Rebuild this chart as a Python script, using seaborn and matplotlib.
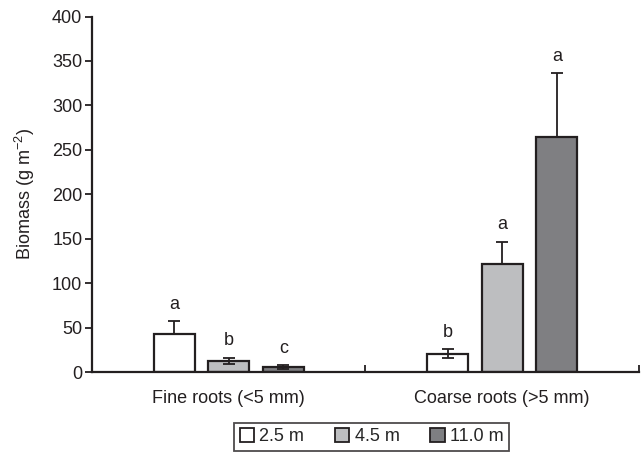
import numpy as np
import pandas as pd
import seaborn as sns
import matplotlib
matplotlib.use("Agg")
import matplotlib.pyplot as plt
from matplotlib.patches import Patch

categories = ["Fine roots (<5 mm)", "Coarse roots (>5 mm)"]
depths = ["2.5 m", "4.5 m", "11.0 m"]
# biomass values per depth, in category order
biomass_25 = [43, 21]
biomass_45 = [13, 122]
biomass_110 = [6, 264]
err_up_25 = [14.5, 5]
err_up_45 = [3.5, 25]
err_up_110 = [2, 72]
err_lo_25 = [0, 5]
err_lo_45 = [3.5, 0]
err_lo_110 = [2, 0]
letters_25 = ["a", "b"]
letters_45 = ["b", "a"]
letters_110 = ["c", "a"]

sns.set_theme(style="ticks")
plt.rcParams["font.family"] = ["Liberation Sans", "DejaVu Sans"]
plt.rcParams["mathtext.fontset"] = "custom"
plt.rcParams["mathtext.rm"] = "Liberation Sans"
plt.rcParams["mathtext.it"] = "Liberation Sans:italic"

rows = []
for d, vals in zip(depths, [biomass_25, biomass_45, biomass_110]):
    for c, v in zip(categories, vals):
        rows.append({"category": c, "depth": d, "biomass": v})
df = pd.DataFrame(rows)

ink = "#231f20"
palette = {"2.5 m": "#ffffff", "4.5 m": "#bdbec0", "11.0 m": "#7e7f82"}
fs = 13

fig = plt.figure(figsize=(6.42, 4.55), dpi=100)
ax = fig.add_axes([0.1433, 0.1818, 0.8520, 0.7819])

sns.barplot(data=df, x="category", y="biomass", hue="depth", order=categories,
            hue_order=depths, palette=palette, width=0.6, gap=0.25,
            edgecolor=ink, linewidth=1.6, errorbar=None, ax=ax, legend=True)

ups = [err_up_25, err_up_45, err_up_110]
los = [err_lo_25, err_lo_45, err_lo_110]
lets = [letters_25, letters_45, letters_110]
for cont, up, lo, lt in zip(ax.containers, ups, los, lets):
    for bar, u, l, t in zip(cont, up, lo, lt):
        xc = bar.get_x() + bar.get_width() / 2
        h = bar.get_height()
        ax.errorbar(xc, h, yerr=[[l], [u]], fmt="none", ecolor=ink,
                    elinewidth=1.3, capsize=4, capthick=1.3, zorder=5)
        ax.annotate(t, (xc, h + u), xytext=(0, 6), textcoords="offset points",
                    ha="center", va="bottom", fontsize=fs, color=ink)

ax.set_xlim(-0.5, 1.5)
ax.set_ylim(0, 400)
ax.set_yticks(np.arange(0, 401, 50))
ax.set_xlabel("")
ax.set_ylabel("Biomass (g m$^{\u2212 2}$)", fontsize=fs, color=ink, labelpad=11)
ax.set_xticks([0.5, 1.5], minor=True)
ax.tick_params(axis="x", which="major", length=0, pad=13, labelsize=fs, colors=ink)
ax.tick_params(axis="x", which="minor", direction="in", length=5, width=1.3, color=ink)
ax.tick_params(axis="y", direction="out", length=5, width=1.3, pad=2, labelsize=fs,
               colors=ink)
for s in ["top", "right"]:
    ax.spines[s].set_visible(False)
for s in ["left", "bottom"]:
    ax.spines[s].set_color(ink)
    ax.spines[s].set_linewidth(1.6)

ax.get_legend().remove()
handles = [Patch(facecolor=palette[d], edgecolor=ink, linewidth=1.3) for d in depths]
leg = fig.legend(handles, depths, loc="center", bbox_to_anchor=(0.579, 0.04), ncol=3,
                 frameon=True, fancybox=False, fontsize=fs, handlelength=0.8,
                 handleheight=0.8, handletextpad=0.3, columnspacing=1.7,
                 borderpad=0.3, borderaxespad=0)
leg.get_frame().set_edgecolor(ink)
leg.get_frame().set_linewidth(1.3)

fig.savefig("out.png", dpi=100)
